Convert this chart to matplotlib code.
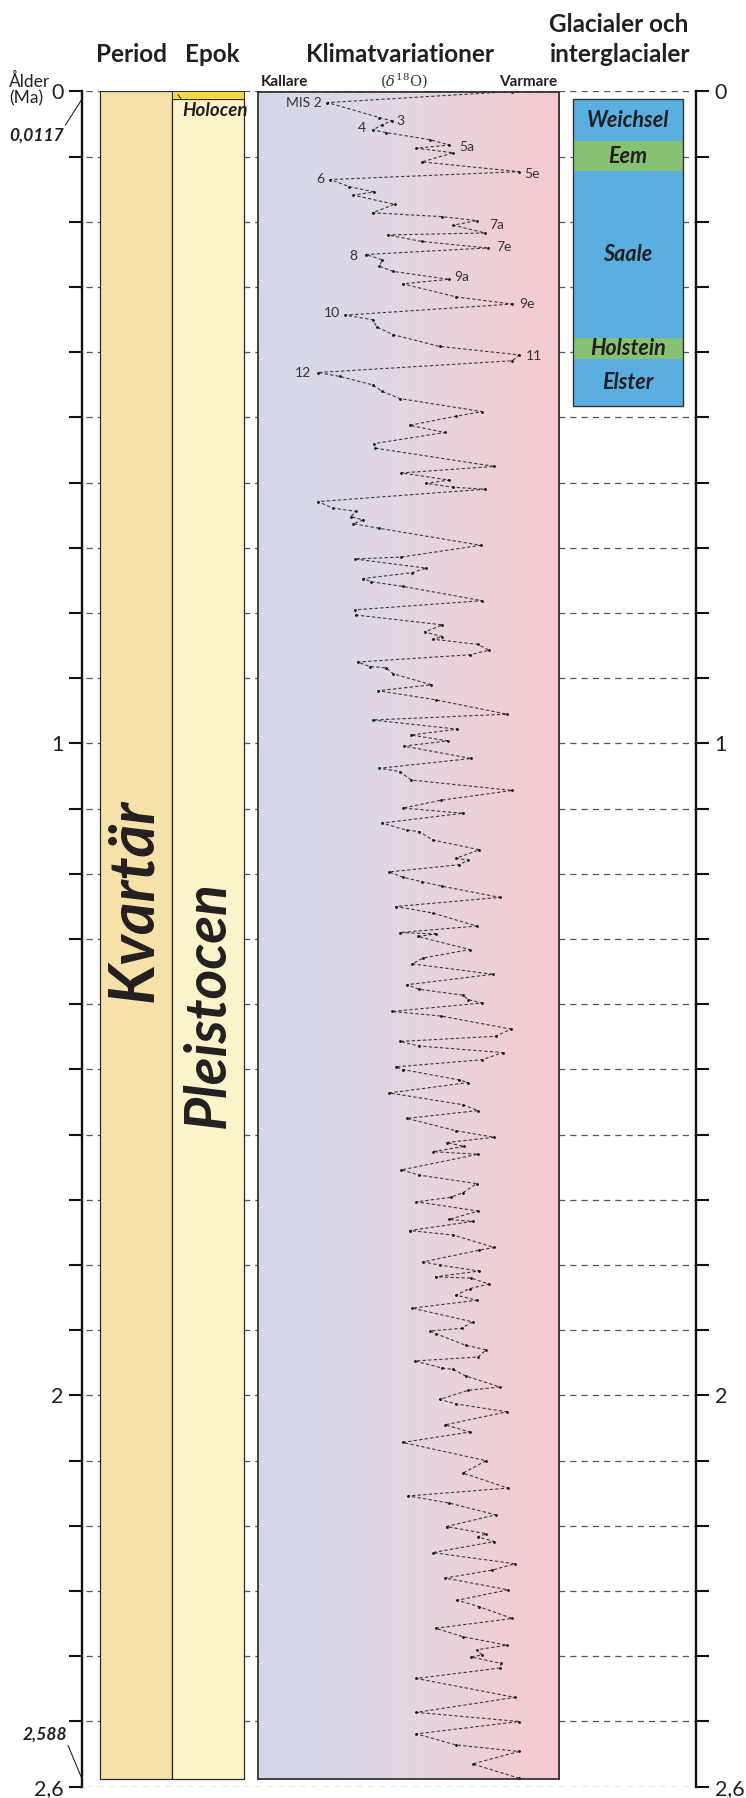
import numpy as np
import matplotlib
matplotlib.use("Agg")
import matplotlib.pyplot as plt
from matplotlib.colors import LinearSegmentedColormap

plt.rcParams['font.family'] = ['Lato', 'DejaVu Sans']

# --- data -------------------------------------------------------------
# benthic d18O curve (permil) against age (Ma)
age_ma = [0.000, 0.017, 0.040, 0.045, 0.051, 0.059, 0.063, 0.074, 0.082, 0.087,
          0.094, 0.108, 0.123, 0.135, 0.146, 0.154, 0.159, 0.173, 0.186, 0.192,
          0.198, 0.205, 0.217, 0.220, 0.230, 0.240, 0.250, 0.258, 0.268, 0.276,
          0.288, 0.295, 0.315, 0.326, 0.343, 0.350, 0.361, 0.373, 0.391, 0.404,
          0.413, 0.431, 0.437, 0.450, 0.460, 0.471, 0.491, 0.498, 0.512, 0.523,
          0.540, 0.547, 0.575, 0.585, 0.596, 0.601, 0.607, 0.610, 0.629, 0.639,
          0.644, 0.652, 0.657, 0.663, 0.670, 0.696, 0.714, 0.717, 0.731, 0.738,
          0.747, 0.752, 0.759, 0.781, 0.795, 0.803, 0.818, 0.829, 0.836, 0.840,
          0.848, 0.857, 0.864, 0.875, 0.882, 0.884, 0.893, 0.910, 0.919, 0.933,
          0.955, 0.964, 0.978, 0.987, 0.996, 1.004, 1.023, 1.038, 1.043, 1.056,
          1.072, 1.087, 1.099, 1.107, 1.122, 1.133, 1.135, 1.148, 1.163, 1.176,
          1.179, 1.186, 1.197, 1.205, 1.212, 1.219, 1.236, 1.250, 1.260, 1.280,
          1.290, 1.292, 1.296, 1.316, 1.329, 1.338, 1.354, 1.370, 1.377, 1.386,
          1.393, 1.398, 1.411, 1.418, 1.438, 1.449, 1.457, 1.464, 1.474, 1.485,
          1.496, 1.500, 1.516, 1.520, 1.536, 1.554, 1.563, 1.575, 1.594, 1.604,
          1.612, 1.618, 1.626, 1.630, 1.654, 1.662, 1.675, 1.689, 1.696, 1.703,
          1.717, 1.730, 1.733, 1.747, 1.754, 1.773, 1.777, 1.795, 1.800, 1.809,
          1.818, 1.820, 1.829, 1.836, 1.846, 1.854, 1.866, 1.887, 1.897, 1.901,
          1.905, 1.923, 1.930, 1.941, 1.947, 1.958, 1.960, 1.970, 1.987, 1.992,
          2.006, 2.013, 2.025, 2.045, 2.056, 2.072, 2.100, 2.119, 2.142, 2.154,
          2.165, 2.183, 2.201, 2.212, 2.217, 2.224, 2.241, 2.258, 2.268, 2.280,
          2.298, 2.314, 2.324, 2.342, 2.357, 2.370, 2.383, 2.390, 2.398, 2.401,
          2.411, 2.418, 2.434, 2.463, 2.486, 2.500, 2.519, 2.536, 2.546, 2.565,
          2.587]
d18o = [3.34, 4.69, 4.31, 4.22, 4.29, 4.36, 4.26, 3.94, 3.80, 4.04,
        3.77, 4.00, 3.29, 4.67, 4.53, 4.35, 4.50, 4.20, 4.36, 3.85,
        3.60, 3.77, 3.54, 4.25, 4.00, 3.52, 4.41, 4.29, 4.31, 4.21,
        3.80, 4.14, 3.75, 3.34, 4.56, 4.36, 4.33, 4.21, 3.87, 3.29,
        3.34, 4.76, 4.60, 4.36, 4.29, 4.16, 3.56, 3.75, 4.09, 3.83,
        4.35, 4.34, 3.47, 4.15, 3.80, 3.97, 3.77, 3.54, 4.76, 4.65,
        4.48, 4.52, 4.43, 4.50, 4.31, 3.57, 4.15, 4.49, 3.97, 4.07,
        4.43, 4.37, 4.14, 3.56, 4.49, 4.48, 3.85, 3.98, 3.85, 3.92,
        3.59, 3.51, 3.65, 4.47, 4.38, 4.26, 4.21, 3.93, 4.32, 3.90,
        3.38, 4.36, 3.74, 4.08, 3.81, 4.13, 3.64, 4.31, 4.16, 4.08,
        3.34, 3.86, 4.14, 3.70, 4.29, 4.11, 4.02, 3.92, 3.58, 3.75,
        3.66, 3.73, 4.24, 4.14, 4.00, 3.85, 3.43, 4.19, 3.92, 3.60,
        4.16, 3.90, 4.03, 3.65, 3.99, 4.07, 3.48, 4.11, 4.02, 3.70,
        3.66, 3.56, 4.22, 3.86, 3.35, 3.46, 4.16, 4.02, 3.41, 3.56,
        4.19, 4.14, 3.73, 3.66, 4.24, 3.70, 3.59, 4.11, 3.75, 3.47,
        3.82, 3.69, 3.92, 3.59, 4.15, 4.02, 3.60, 3.70, 3.79, 4.04,
        3.59, 3.80, 3.63, 4.09, 3.77, 3.47, 3.58, 3.99, 3.87, 3.58,
        3.90, 3.64, 3.51, 3.65, 3.75, 3.60, 4.07, 3.63, 3.71, 3.94,
        3.90, 3.68, 3.53, 3.59, 4.05, 3.85, 3.77, 3.68, 3.43, 3.66,
        3.87, 3.75, 3.38, 3.83, 3.65, 4.14, 3.53, 3.70, 3.37, 4.10,
        3.80, 3.46, 3.82, 3.53, 3.59, 3.47, 3.92, 3.32, 3.49, 3.83,
        3.37, 3.74, 3.58, 3.34, 3.90, 3.70, 3.38, 3.60, 3.56, 3.64,
        3.42, 3.43, 4.04, 3.32, 4.04, 3.29, 4.04, 3.75, 3.29, 3.63,
        3.29]

# marine isotope stage labels: text, age (Ma), d18O, side
mis_text = ['MIS 2', '3', '4', '5a', '5e', '6', '7a', '7e', '8', '9a', '9e', '10', '11', '12']
mis_age = [0.017, 0.045, 0.056, 0.085, 0.127, 0.134, 0.205, 0.238, 0.252, 0.284, 0.326, 0.340, 0.405, 0.432]
mis_d18o = [4.73, 4.19, 4.41, 3.73, 3.25, 4.71, 3.51, 3.46, 4.47, 3.76, 3.29, 4.60, 3.24, 4.81]
mis_side = ['r', 'l', 'r', 'l', 'l', 'r', 'l', 'l', 'r', 'l', 'l', 'r', 'l', 'r']

# glacials / interglacials (Ma)
stage_names = ['Weichsel', 'Eem', 'Saale', 'Holstein', 'Elster']
stage_top = [0.0117, 0.076, 0.122, 0.378, 0.411]
stage_base = [0.076, 0.122, 0.378, 0.411, 0.482]
stage_warm = [False, True, False, True, False]

holocene_base = 0.0117
pleistocene_base = 2.588
age_max = 2.6
tick_step = 0.1
tick_labels = {0.0: '0', 1.0: '1', 2.0: '2', 2.6: '2,6'}

# --- layout -----------------------------------------------------------
W, H = 746, 1798
fig = plt.figure(figsize=(W / 100, H / 100), dpi=100, facecolor='white')


def fx(px):
    return px / W


def fy(py):
    return 1 - py / H


txt = '#231F20'
ax_left, ax_right, ax_top, ax_bot = 82, 696, 91.5, 1786.7
ax = fig.add_axes([fx(ax_left), fy(ax_bot), (ax_right - ax_left) / W, (ax_bot - ax_top) / H])
ax.set_xlim(0, 1)
ax.set_ylim(age_max, 0)


def colx(px):
    # horizontal position in the main axes (0..1)
    return (px - ax_left) / (ax_right - ax_left)


# dashed guide lines at every tick
ticks = np.round(np.arange(0, age_max + 0.001, tick_step), 1)
ax.hlines(ticks, colx(86), colx(694), colors='#555555', linestyles=(0, (5, 4)), lw=0.9, zorder=0.5)

# period / epoch columns
ax.barh(pleistocene_base / 2, colx(172) - colx(100), left=colx(100), height=pleistocene_base,
        color='#F6E2A9', edgecolor='#2b2b2b', lw=0.9, zorder=1)
ax.barh((holocene_base + pleistocene_base) / 2, colx(244) - colx(172), left=colx(172),
        height=pleistocene_base - holocene_base, color='#FBF4CB', edgecolor='#2b2b2b', lw=0.9, zorder=1)
ax.barh(holocene_base / 2, colx(244) - colx(172), left=colx(172), height=holocene_base,
        color='#F4D843', edgecolor='#2b2b2b', lw=0.7, zorder=1)

ax.text(colx(134), 1.240, 'Kvartär', rotation=90, ha='center', va='center', fontsize=45,
        fontweight='bold', fontstyle='italic', color=txt, zorder=3)
ax.text(colx(208), 1.400, 'Pleistocen', rotation=90, ha='center', va='center', fontsize=41,
        fontweight='bold', fontstyle='italic', color=txt, zorder=3)
ax.annotate('Holocen', xy=(colx(178), 0.005), xytext=(3, -11), textcoords='offset points',
            ha='left', va='center', fontsize=13.5, fontweight='bold', fontstyle='italic', color=txt,
            arrowprops=dict(arrowstyle='-', lw=0.7, color='#222', shrinkA=0, shrinkB=0, relpos=(0.03, 0.9)),
            zorder=3)

# glacial / interglacial column
g_left, g_right = colx(572.7), colx(683.3)
for name, top, base, warm in zip(stage_names, stage_top, stage_base, stage_warm):
    ax.barh((top + base) / 2, g_right - g_left, left=g_left, height=base - top,
            color='#86C174' if warm else '#5AAFE0', lw=0, zorder=1)
    ax.text((g_left + g_right) / 2, (top + base) / 2, name, ha='center', va='center',
            fontsize=15.5, fontweight='bold', fontstyle='italic', color=txt, zorder=3)
ax.barh((stage_top[0] + stage_base[-1]) / 2, g_right - g_left, left=g_left,
        height=stage_base[-1] - stage_top[0], fill=False, edgecolor='#333', lw=1.0, zorder=2)

# axes styling
for s in ['top', 'bottom']:
    ax.spines[s].set_visible(False)
for s in ['left', 'right']:
    ax.spines[s].set_linewidth(1.7)
    ax.spines[s].set_color('#111')
ax.set_xticks([])
ax.set_yticks(ticks)
ax.set_yticklabels([tick_labels.get(float(t), '') for t in ticks])
ax.tick_params(axis='y', direction='out', length=9.5, width=1.5, labelsize=15.5, pad=4,
               left=True, right=True, labelleft=True, labelright=True, colors='#111',
               labelcolor=txt)
ax.set_facecolor('none')

ax.annotate('0,0117', xy=(0, holocene_base), xycoords=('axes fraction', 'data'),
            xytext=(-33, -26.5), textcoords='offset points', ha='center', va='center',
            fontsize=12.5, fontweight='bold', fontstyle='italic', color=txt,
            arrowprops=dict(arrowstyle='-', lw=0.8, color='#222', shrinkA=0, shrinkB=0, relpos=(1, 1)))
ax.annotate('2,588', xy=(0, pleistocene_base), xycoords=('axes fraction', 'data'),
            xytext=(-27, 32), textcoords='offset points', ha='center', va='center',
            fontsize=12.5, fontweight='bold', fontstyle='italic', color=txt,
            arrowprops=dict(arrowstyle='-', lw=0.8, color='#222', shrinkA=0, shrinkB=0, relpos=(1, 0)))

# climate panel
c_left, c_right = 257.7, 558.7
ax_h = (ax_bot - ax_top) / H
c_h = ax_h * pleistocene_base / age_max
axc = fig.add_axes([fx(c_left), fy(ax_top) - c_h, (c_right - c_left) / W, c_h])
axc.set_xlim(5.2, 3.0)
axc.set_ylim(pleistocene_base, 0)
grad = LinearSegmentedColormap.from_list('klimat', ['#D2D9EB', '#E3D6E1', '#F7CACC'])
axc.imshow(np.linspace(0, 1, 256)[None, :], cmap=grad, aspect='auto',
           extent=(5.2, 3.0, pleistocene_base, 0), zorder=0)
axc.plot(d18o, age_ma, color='#3a3a3a', lw=0.8, ls=(0, (3, 2)), zorder=2)
axc.plot(d18o, age_ma, ls='none', marker='o', ms=1.0, color='#111', zorder=2)
for t, a, d, side in zip(mis_text, mis_age, mis_d18o, mis_side):
    axc.text(d, a, t, ha='right' if side == 'r' else 'left', va='center', fontsize=10, color='#333')
axc.set_xticks([])
axc.set_yticks([])
for s in axc.spines.values():
    s.set_color('#333')
    s.set_linewidth(1.3)

# headers
head = dict(fontsize=17.5, fontweight='bold', color=txt, ha='center', va='center')
fig.text(fx(132), fy(55), 'Period', **head)
fig.text(fx(212), fy(55), 'Epok', **head)
fig.text(fx(400), fy(55), 'Klimatvariationer', **head)
fig.text(fx(619), fy(24), 'Glacialer och', **head)
fig.text(fx(620), fy(55), 'interglacialer', **head)
fig.text(fx(261), fy(81.5), 'Kallare', fontsize=11, fontweight='bold', color=txt, ha='left', va='center')
fig.text(fx(557), fy(81.5), 'Varmare', fontsize=11, fontweight='bold', color=txt, ha='right', va='center')
fig.text(fx(404), fy(81), r'$(\delta^{18}\mathrm{O})$', fontsize=10.5, color='#333', ha='center',
         va='center', math_fontfamily='dejavuserif')
fig.text(fx(9), fy(90), 'Ålder\n(Ma)', fontsize=12.5, color=txt, ha='left', va='center', linespacing=1.05)

fig.savefig('out.png', dpi=100, facecolor='white')
